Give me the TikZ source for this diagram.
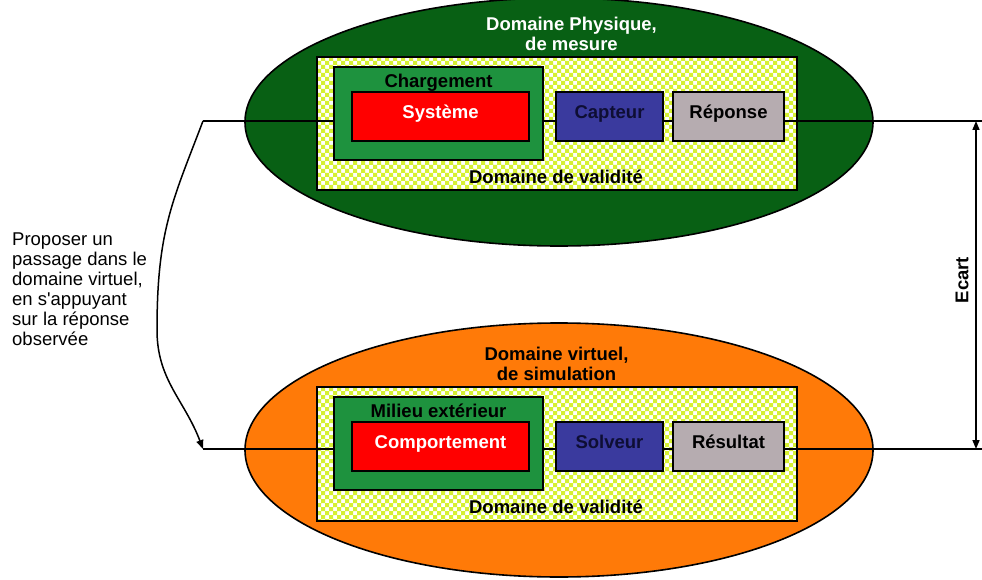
\documentclass[tikz,border=0pt]{standalone}
\usepackage{fontspec}
\setmainfont{Liberation Sans}
\usetikzlibrary{shapes.geometric,arrows.meta}

\definecolor{physgreen}{RGB}{8,96,20}
\definecolor{virtorange}{RGB}{255,122,8}
\definecolor{loadgreen}{RGB}{30,146,62}
\definecolor{sysred}{RGB}{255,0,0}
\definecolor{sensorblue}{RGB}{58,58,158}
\definecolor{outgray}{RGB}{182,172,176}
\definecolor{checkyellow}{RGB}{214,240,50}
\definecolor{navytext}{RGB}{14,14,52}

\tikzset{
  domainshape/.style={ellipse, draw=black, line width=1.6pt, inner sep=0pt,
    minimum width=628pt, minimum height=248pt},
  validity/.style={rectangle, draw=black, line width=2pt, inner sep=0pt,
    minimum width=480pt, minimum height=133pt},
  outerbox/.style={rectangle, draw=black, line width=2.2pt, fill=loadgreen,
    inner sep=0pt, minimum width=209pt, minimum height=93pt},
  blockbox/.style={rectangle, draw=black, line width=2.2pt, inner sep=0pt,
    minimum height=49pt, text height=15pt, text depth=11pt,
    font=\fontsize{18.5}{20}\selectfont\bfseries},
  lbl/.style={inner sep=0pt, font=\fontsize{18.5}{20}\selectfont\bfseries},
  plaintext/.style={inner sep=0pt, font=\fontsize{18.5}{20}\selectfont},
  link/.style={draw=black, line width=2pt},
  tipped/.style={draw=black, line width=1.5pt,
    -{Triangle[length=9pt,width=7pt]}},
  bothtips/.style={draw=black, line width=1.5pt,
    {Triangle[length=9pt,width=7pt]}-{Triangle[length=9pt,width=7pt]}},
}

% checkerboard of 4pt cells: vertical and horizontal stripes, even-odd filled
\newcommand\checkers[4]{%
  \fill[white] (#1,#2) rectangle (#3,#4);
  \begin{scope}
    \clip (#1,#2) rectangle (#3,#4);
    \fill[checkyellow, even odd rule]
      foreach \cx in {#1,\the\numexpr#1+8\relax,...,#3} { (\cx,#2) rectangle ++(4,#4-#2) }
      foreach \cy in {#2,\the\numexpr#2+8\relax,...,#4} { (#1,\cy) rectangle ++(#3-#1,4) };
  \end{scope}}

\begin{document}
\begin{tikzpicture}[x=1pt, y=-1pt]
  \useasboundingbox (0,0) rectangle (982,580);

  % the two domains
  \node[domainshape, fill=physgreen] (phys) at (559,122) {};
  \node[domainshape, fill=virtorange, minimum height=254pt] (virt) at (559,450) {};

  % validity areas
  \checkers{317}{57}{797}{190}
  \node[validity] (valtop) at (557,123.5) {};
  \checkers{317}{387}{797}{521}
  \node[validity, minimum height=134pt] (valbot) at (557,454) {};

  % domain titles
  \node[lbl, text=white, align=center] (phystitle) at (571.5,34)
    {Domaine Physique,\\de mesure};
  \node[lbl, text=black, align=center] (virttitle) at (556.5,364)
    {Domaine virtuel,\\de simulation};

  % chains
  \coordinate (tl) at (203,121);
  \coordinate (tr) at (982,121);
  \coordinate (bl) at (203,449);
  \coordinate (br) at (982,449);
  \coordinate (bend) at (157,330);
  \path[link] (tl) -- (tr);
  \path[link] (bl) -- (br);

  % physical chain
  \node[outerbox] (load) at (438.5,113.5) {};
  \node[lbl] (loadlbl) at (438.5,83) {Chargement};
  \node[blockbox, fill=sysred, text=white, minimum width=177pt] (sys) at (440.5,116.5) {Système};
  \node[blockbox, fill=sensorblue, text=navytext, minimum width=107pt] (sensor) at (609.5,116.5) {Capteur};
  \node[blockbox, fill=outgray, text=black, minimum width=111pt] (resp) at (728.5,116.5) {Réponse};
  \node[lbl] (valtoplbl) at (556,177) {Domaine de validité};

  % virtual chain
  \node[outerbox] (ext) at (438.5,443.5) {};
  \node[lbl] (extlbl) at (438.5,411) {Milieu extérieur};
  \node[blockbox, fill=sysred, text=white, minimum width=177pt] (behav) at (440.5,446.5) {Comportement};
  \node[blockbox, fill=sensorblue, text=navytext, minimum width=107pt] (solver) at (609.5,446.5) {Solveur};
  \node[blockbox, fill=outgray, text=black, minimum width=111pt] (result) at (728.5,446.5) {Résultat};
  \node[lbl] (valbotlbl) at (556,507) {Domaine de validité};

  % passage from measured response to the virtual domain
  \path[tipped] (tl) .. controls (172.6,201) and (157,230) .. (bend)
                     .. controls (157,380) and (184.5,400) .. (bl);
  \node[plaintext, anchor=north west, align=left] (passage) at (12,233)
    {Proposer un\\passage dans le\\domaine virtuel,\\en s\textquotesingle appuyant\\sur la réponse\\observée};

  % gap between the two responses
  \coordinate (gaptop) at (976,121);
  \coordinate (gapbot) at (976,449);
  \path[bothtips] (gaptop) -- (gapbot);
  \node[lbl, rotate=90] (gaplbl) at (962,280) {Ecart};
\end{tikzpicture}
\end{document}
